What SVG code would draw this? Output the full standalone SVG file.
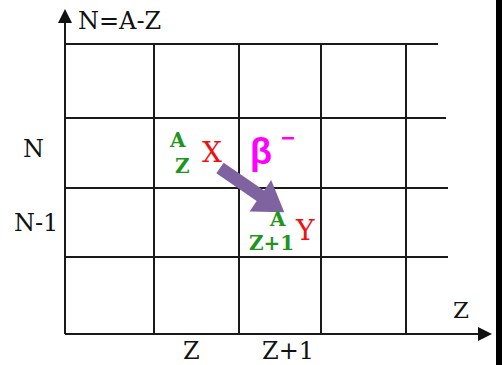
<svg xmlns="http://www.w3.org/2000/svg" width="502" height="365" viewBox="0 0 502 365">
<style>
.g{stroke:#1a1a1a;stroke-width:2;fill:none}
.t{font-family:'DejaVu Serif','Liberation Serif',serif;fill:#111;font-size:24px}
.gr{font-family:'DejaVu Serif','Liberation Serif',serif;fill:#1e961e;font-size:20px;font-weight:bold}
.rd{font-family:'DejaVu Serif','Liberation Serif',serif;fill:#f01010;font-size:28px}
.bt{font-family:'Liberation Sans',Arial,sans-serif;font-weight:bold;fill:#ff00ff}
</style>
<defs>
<marker id="ah" viewBox="0 0 14 14" refX="2" refY="7" markerWidth="14" markerHeight="14" markerUnits="userSpaceOnUse" orient="auto">
<path d="M0,0 L14,7 L0,14 Z" fill="#111"/>
</marker>
</defs>
<rect width="502" height="365" fill="#fff"/>
<rect x="496" y="0" width="6" height="365" fill="#000"/>
<g id="grid">
<path class="g" d="M65,44H438 M65,118H446 M65,188H448 M65,257H448 M154,44V334 M239,44V334 M321,44V334 M406,44V334"/>
</g>
<g id="connectors">
<line class="g" x1="65" y1="334" x2="65" y2="21" marker-end="url(#ah)"/>
<line class="g" x1="65" y1="334" x2="480" y2="334" marker-end="url(#ah)"/>
<polygon id="decay-arrow" fill="#7f63a1" transform="translate(220,168) rotate(34.5)" points="0,-6.5 49,-6.5 49,-19 78,0 49,19 49,6.5 0,6.5"/>
</g>
<g id="labels">
<text class="t" x="78" y="29">N=A-Z</text>
<text class="t" x="23" y="157">N</text>
<text class="t" x="14" y="231">N-1</text>
<text class="t" x="183" y="359">Z</text>
<text class="t" x="262" y="359">Z+1</text>
<text class="t" x="453" y="318" style="font-size:23px">Z</text>
</g>
<g id="node-X">
<text class="gr" x="170" y="147">A</text>
<text class="gr" x="175" y="173">Z</text>
<text class="rd" x="202" y="162">X</text>
</g>
<g id="beta">
<text class="bt" x="250" y="164" font-size="36">β</text>
<text class="bt" x="281" y="146" font-size="24">−</text>
</g>
<g id="node-Y">
<text class="gr" x="270" y="226">A</text>
<text class="gr" x="249" y="250">Z+1</text>
<text class="rd" x="296" y="240">Y</text>
</g>
</svg>
